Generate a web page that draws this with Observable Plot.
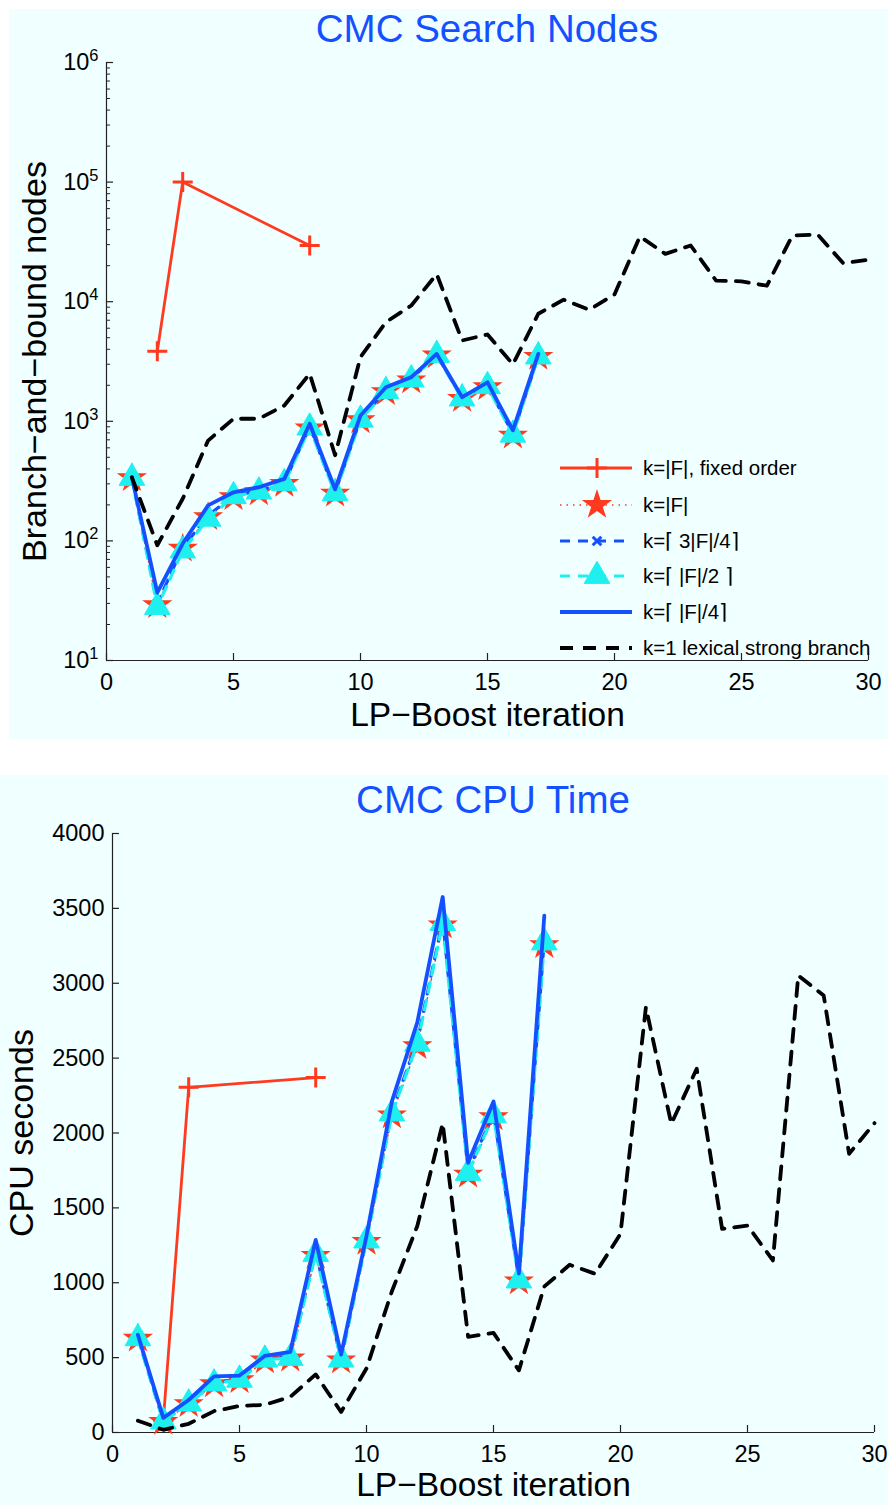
<!DOCTYPE html>
<html><head><meta charset="utf-8">
<script src="https://cdn.jsdelivr.net/npm/d3@7"></script>
<script src="https://cdn.jsdelivr.net/npm/@observablehq/plot@0.6"></script>
<style>
body{margin:0;background:#fff;}
#page{position:relative;width:888px;height:1505px;overflow:hidden;font-family:"Liberation Sans",Arial,Helvetica,sans-serif;}
.panel{position:absolute;background:#f0ffff;}
.title{position:absolute;color:#1450ff;font-size:38.5px;transform:translateX(-50%);white-space:nowrap;line-height:1;}
.chart{position:absolute;left:0;}
</style></head><body>
<div id="page">
 <div class="panel" style="left:9px;top:9px;width:879px;height:730px"></div>
 <div class="panel" style="left:0;top:775px;width:888px;height:730px"></div>
 <div class="title" style="left:487px;top:10px">CMC Search Nodes</div>
 <div class="title" style="left:493px;top:781px">CMC CPU Time</div>
 <div class="chart" id="c1" style="top:45px"></div>
 <div class="chart" id="c2" style="top:815px"></div>
</div>
<script>
// ---------- data ----------
const itersFixed = [2, 3, 8];
const iters17 = [1,2,3,4,5,6,7,8,9,10,11,12,13,14,15,16,17];
const iters30 = [1,2,3,4,5,6,7,8,9,10,11,12,13,14,15,16,17,18,19,20,21,22,23,24,25,26,27,28,29,30];
const xTickValues = [0, 5, 10, 15, 20, 25, 30];

// Top: branch-and-bound nodes
const nodesFixed = [3850, 100000, 29500];
const nodesKF   = [335, 29, 86, 158, 232, 255, 300, 870, 248, 1020, 1750, 2200, 3550, 1540, 1930, 760, 3450];
const nodesK3F4 = [338, 30, 88, 163, 240, 262, 306, 905, 254, 1045, 1800, 2260, 3600, 1565, 1990, 785, 3500];
const nodesKF2  = [336, 28, 83, 153, 236, 258, 303, 885, 250, 1030, 1785, 2235, 3580, 1550, 1965, 772, 3480];
const nodesKF4  = [340, 37, 95, 198, 255, 281, 330, 955, 270, 1120, 1930, 2340, 3660, 1590, 2120, 840, 3660];
const nodesLex  = [340, 92, 225, 690, 1050, 1050, 1355, 2500, 520, 3440, 6740, 9300, 17000, 4740, 5320, 2990, 7930, 10400, 8550, 11500, 35100, 25100, 29500, 15000, 14800, 13600, 35700, 36500, 21000, 22400];
const nodesTicks = [10, 100, 1000, 10000, 100000, 1000000];
const nodesMinor = [20,30,40,50,60,70,80,90,200,300,400,500,600,700,800,900,2000,3000,4000,5000,6000,7000,8000,9000,20000,30000,40000,50000,60000,70000,80000,90000,200000,300000,400000,500000,600000,700000,800000,900000];

// Bottom: CPU seconds
const cpuFixed = [80, 2305, 2370];
const cpuKF   = [626, 71, 190, 322, 349, 481, 494, 1180, 481, 1273, 2118, 2580, 3386, 1722, 2105, 1009, 3254];
const cpuK3F4 = [632, 76, 196, 332, 356, 491, 502, 1205, 492, 1292, 2145, 2612, 3420, 1745, 2132, 1022, 3292];
const cpuKF2  = [629, 73, 193, 327, 352, 486, 498, 1192, 486, 1282, 2130, 2596, 3402, 1733, 2118, 1015, 3272];
const cpuKF4  = [652, 98, 217, 375, 380, 512, 539, 1286, 520, 1313, 2211, 2739, 3576, 1801, 2211, 1062, 3452];
const cpuLex  = [79, 18, 58, 143, 177, 185, 238, 388, 137, 428, 943, 1379, 2065, 639, 665, 415, 975, 1120, 1060, 1327, 2840, 2061, 2429, 1360, 1382, 1149, 3052, 2918, 1861, 2066];
const cpuTicks = [0, 500, 1000, 1500, 2000, 2500, 3000, 3500, 4000];

const seriesLabels = ["k=|F|, fixed order", "k=|F|", "k=\u2308 3|F|/4\u2309", "k=\u2308 |F|/2 \u2309", "k=\u2308 |F|/4\u2309", "k=1 lexical strong branch"];

// ---------- styles ----------
const FONT = '"Liberation Sans", Arial, Helvetica, sans-serif';
const RED = "#ff3a1f", BLUE = "#1450ff", CYAN = "#1ef0f0", BLACK = "#000", AXIS = "#222";
const styles = [
  {stroke: RED,   strokeWidth: 2.8, dash: null,    symbol: "plus",     r: 6.5, fill: "none", mstroke: RED, mw: 3},
  {stroke: RED,   strokeWidth: 1.5, dash: "1.5,5", symbol: "star",     r: 9.5, fill: RED, mstroke: "none", mw: 0},
  {stroke: BLUE,  strokeWidth: 3.2, dash: "10,8",  symbol: "times",    r: 4, fill: "none", mstroke: BLUE, mw: 3},
  {stroke: CYAN,  strokeWidth: 3.2, dash: "10,8",  symbol: "triangle", r: 9.5, fill: CYAN, mstroke: CYAN, mw: 1},
  {stroke: BLUE,  strokeWidth: 3.8, dash: null,    symbol: null},
  {stroke: BLACK, strokeWidth: 3.8, dash: "13,10", symbol: null}
];

function rows(xs, ys) { return xs.map((x, i) => ({x, y: ys[i]})); }

function seriesMarks(datasets) {
  const marks = [];
  datasets.forEach((data, i) => {
    const s = styles[i];
    marks.push(Plot.line(data, {x: "x", y: "y", stroke: s.stroke, strokeWidth: s.strokeWidth,
      strokeDasharray: s.dash || undefined, strokeLinejoin: "round"}));
    if (s.symbol) {
      marks.push(Plot.dot(data, {x: "x", y: "y", symbol: s.symbol, r: s.r, fill: s.fill,
        stroke: s.mstroke, strokeWidth: s.mw}));
    }
  });
  return marks;
}

function makeChart(cfg) {
  const innerW = cfg.width - cfg.marginLeft - cfg.marginRight;
  const innerH = cfg.height - cfg.marginTop - cfg.marginBottom;
  const marks = [
    Plot.ruleX([0], {stroke: AXIS, strokeWidth: 1.2}),
    Plot.ruleY([cfg.yDomain[0]], {stroke: AXIS, strokeWidth: 1.2}),
    Plot.tickX(xTickValues, {x: d => d, insetTop: innerH - 7, stroke: AXIS, strokeWidth: 1.2}),
    Plot.tickY(cfg.yTicks, {y: d => d, insetRight: innerW - 7, stroke: AXIS, strokeWidth: 1.2})
  ];
  if (cfg.yMinor) marks.push(Plot.tickY(cfg.yMinor, {y: d => d, insetRight: innerW - 4, stroke: AXIS, strokeWidth: 1}));
  marks.push(...seriesMarks(cfg.datasets));
  marks.push(Plot.text([cfg.xLabel], {text: d => d, frameAnchor: "bottom", dy: cfg.xLabelDy,
    textAnchor: "middle", lineAnchor: "middle", fontSize: 33.5, fill: "#000"}));
  marks.push(Plot.text([cfg.yLabel], {text: d => d, frameAnchor: "left", dx: cfg.yLabelDx, rotate: -90,
    textAnchor: "middle", lineAnchor: "middle", fontSize: 34, fill: "#000"}));
  return Plot.plot({
    width: cfg.width, height: cfg.height,
    marginTop: cfg.marginTop, marginBottom: cfg.marginBottom,
    marginLeft: cfg.marginLeft, marginRight: cfg.marginRight,
    style: {background: "transparent", fontFamily: FONT, fontSize: "23.5px", color: "#000", overflow: "visible"},
    x: {domain: [0, 30], ticks: xTickValues, tickSize: 0, tickPadding: 13, label: null, tickFormat: d => String(d)},
    y: {type: cfg.yType, domain: cfg.yDomain, ticks: cfg.yTicks, tickSize: 0, tickPadding: 8, label: null, tickFormat: cfg.tickFormat},
    marks
  });
}

const chart1 = makeChart({
  width: 888, height: 690, marginTop: 17, marginBottom: 75, marginLeft: 106, marginRight: 20,
  yType: "log", yDomain: [10, 1000000], yTicks: nodesTicks, yMinor: nodesMinor,
  tickFormat: d => "10^" + Math.round(Math.log10(d)),
  datasets: [rows(itersFixed, nodesFixed), rows(iters17, nodesKF), rows(iters17, nodesK3F4),
             rows(iters17, nodesKF2), rows(iters17, nodesKF4), rows(iters30, nodesLex)],
  xLabel: "LP\u2212Boost iteration", xLabelDy: 55,
  yLabel: "Branch\u2212and\u2212bound nodes", yLabelDx: -71
});
document.getElementById("c1").appendChild(chart1);

// superscript exponents on log tick labels
d3.select(chart1).selectAll("text").each(function() {
  const m = /^10\^(\d+)$/.exec(this.textContent);
  if (m) {
    const t = d3.select(this);
    t.text("10");
    t.append("tspan").attr("dy", "-0.55em").attr("font-size", "0.7em").text(m[1]);
  }
});

const chart2 = makeChart({
  width: 888, height: 690, marginTop: 18, marginBottom: 73, marginLeft: 112, marginRight: 14,
  yType: "linear", yDomain: [0, 4000], yTicks: cpuTicks, yMinor: null,
  tickFormat: d => String(d),
  datasets: [rows(itersFixed, cpuFixed), rows(iters17, cpuKF), rows(iters17, cpuK3F4),
             rows(iters17, cpuKF2), rows(iters17, cpuKF4), rows(iters30, cpuLex)],
  xLabel: "LP\u2212Boost iteration", xLabelDy: 53,
  yLabel: "CPU seconds", yLabelDx: -90
});
document.getElementById("c2").appendChild(chart2);

// ---------- legend (inside top plot, lower right) ----------
const symbolMap = {plus: d3.symbolPlus, star: d3.symbolStar, times: d3.symbolTimes, triangle: d3.symbolTriangle};
const leg = d3.select("#page").append("svg")
  .attr("width", 348).attr("height", 215)
  .style("position", "absolute").style("left", "540px").style("top", "445px")
  .style("overflow", "visible").style("pointer-events", "none");
const rowY = [23, 60, 96, 131, 167, 203];
seriesLabels.forEach((label, i) => {
  const s = styles[i];
  const g = leg.append("g").attr("transform", `translate(0,${rowY[i]})`);
  g.append("line").attr("x1", 20).attr("x2", 92).attr("y1", 0).attr("y2", 0)
    .attr("stroke", s.stroke).attr("stroke-width", s.strokeWidth)
    .attr("stroke-dasharray", s.dash || null);
  if (s.symbol) {
    g.append("path").attr("transform", "translate(57,0)")
      .attr("d", d3.symbol(symbolMap[s.symbol], Math.PI * s.r * s.r)())
      .attr("fill", s.fill).attr("stroke", s.mstroke).attr("stroke-width", s.mw);
  }
  g.append("text").attr("x", 103).attr("y", 7).attr("font-family", FONT).attr("font-size", 20.5)
    .attr("fill", "#000").text(label);
});
</script>
</body></html>
